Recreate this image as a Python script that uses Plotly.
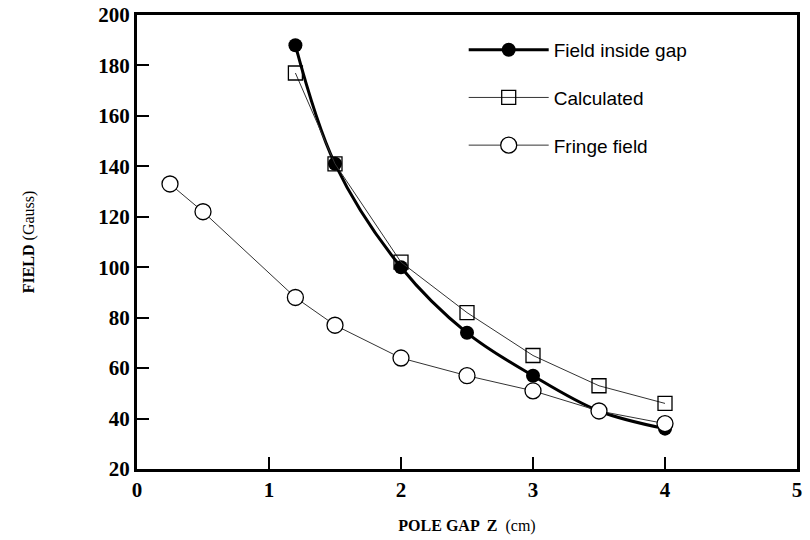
import plotly.graph_objects as go

gap_x = [1.2, 1.5, 2.0, 2.5, 3.0, 3.5, 4.0]
gap_y = [188, 141, 100, 74, 57, 43, 36]

calc_x = [1.2, 1.5, 2.0, 2.5, 3.0, 3.5, 4.0]
calc_y = [177, 141, 102, 82, 65, 53, 46]

fringe_x = [0.25, 0.5, 1.2, 1.5, 2.0, 2.5, 3.0, 3.5, 4.0]
fringe_y = [133, 122, 88, 77, 64, 57, 51, 43, 38]

x_ticks = [0, 1, 2, 3, 4, 5]
y_ticks = [20, 40, 60, 80, 100, 120, 140, 160, 180, 200]

fig = go.Figure()
fig.add_trace(go.Scatter(
    x=gap_x, y=gap_y, name="Field inside gap", mode="lines+markers",
    line=dict(color="black", width=3, shape="spline", smoothing=1.0),
    marker=dict(symbol="circle", size=14, color="black"),
    legendgroup="a"))
fig.add_trace(go.Scatter(
    x=calc_x, y=calc_y, name="Calculated", mode="lines+markers",
    line=dict(color="#333333", width=1),
    marker=dict(symbol="square-open", size=14, color="black", line=dict(width=1.3)),
    legendgroup="b"))
fig.add_trace(go.Scatter(
    x=fringe_x, y=fringe_y, name="Fringe field", mode="lines+markers",
    line=dict(color="#333333", width=1),
    marker=dict(symbol="circle", size=16, color="white", line=dict(color="black", width=1.3)),
    legendgroup="c"))

axis_font = dict(family="Liberation Serif", size=21, color="black")
fig.update_layout(
    width=810, height=540,
    margin=dict(l=137, r=13, t=15, b=71),
    paper_bgcolor="white", plot_bgcolor="white",
    showlegend=True,
    legend=dict(x=0.495, y=0.965, xanchor="left", yanchor="top",
                font=dict(family="Liberation Sans", size=19, color="black"),
                bgcolor="rgba(0,0,0,0)", tracegroupgap=20, traceorder="grouped",
                itemwidth=80),
    xaxis=dict(range=[0, 5], tickvals=x_ticks, ticktext=["<b>%d</b>" % v for v in x_ticks],
               ticks="inside", ticklen=12, tickwidth=1.5, tickcolor="black",
               showline=True, linewidth=3, linecolor="black", mirror=True,
               showgrid=False, zeroline=False, tickfont=axis_font, automargin=False,
               title=dict(text="<b>POLE GAP  Z</b>  (cm)", font=dict(family="Liberation Serif", size=16, color="black"),
                          standoff=19)),
    yaxis=dict(range=[20, 200], tickvals=y_ticks, ticktext=["<b>%d</b>" % v for v in y_ticks],
               ticks="inside", ticklen=12, tickwidth=1.5, tickcolor="black",
               showline=True, linewidth=3, linecolor="black", mirror=True,
               showgrid=False, zeroline=False, tickfont=axis_font, automargin=False,
               title=dict(text="<b>FIELD</b> (Gauss)", font=dict(family="Liberation Serif", size=16, color="black"),
                          standoff=60)),
)
fig.write_html("out.html")
